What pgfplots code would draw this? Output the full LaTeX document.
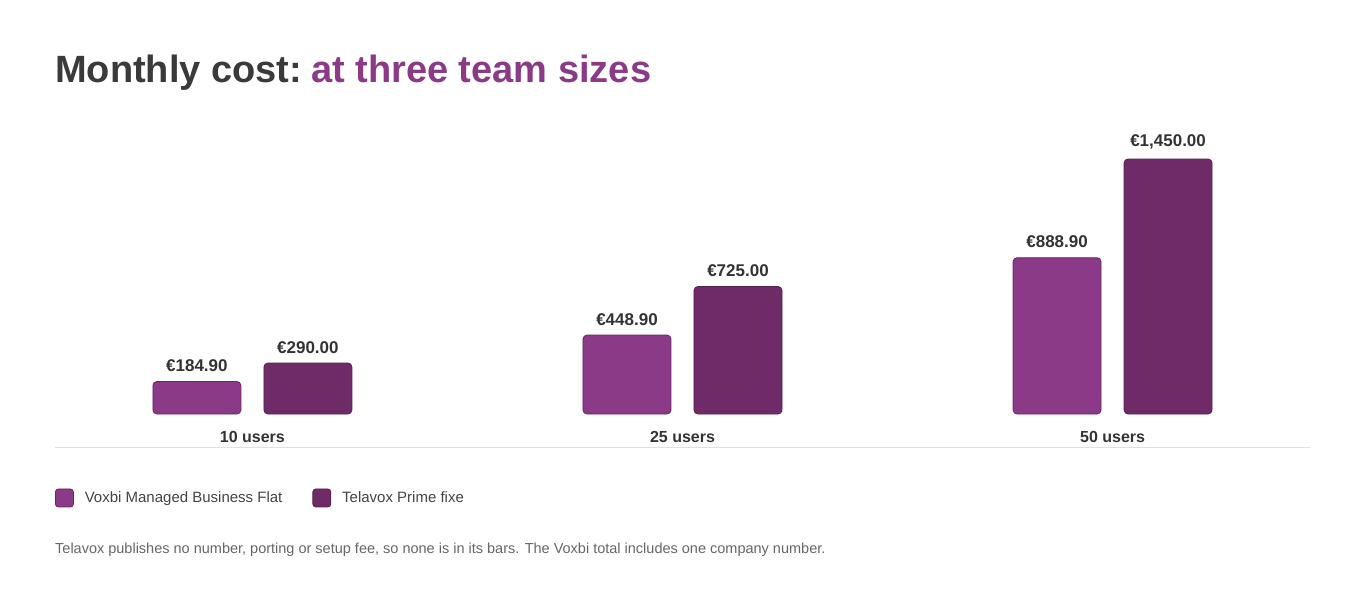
\documentclass[border=0pt]{standalone}
\usepackage{pgfplots}
\pgfplotsset{compat=1.18}
\usepackage{fontspec}
\setmainfont{Liberation Sans}
\definecolor{voxbi}{HTML}{8B3A88}
\definecolor{voxbiedge}{HTML}{6B2468}
\definecolor{telavox}{HTML}{6E2B68}
\definecolor{telavoxedge}{HTML}{55204F}
\definecolor{titlegray}{HTML}{3A3A3A}
\definecolor{labelgray}{HTML}{333333}
\definecolor{legendgray}{HTML}{444444}
\definecolor{notegray}{HTML}{666666}
\definecolor{axisgray}{HTML}{E0E0E0}
\begin{document}
\begin{tikzpicture}[x=1pt,y=1pt]
\path[use as bounding box] (0,0) rectangle (1366,608);
\node[anchor=base west, inner sep=0pt, font=\fontsize{38}{46}\selectfont\bfseries] at (55,525) {\textcolor{titlegray}{Monthly cost:}\hspace{9pt}\textcolor{voxbi}{at three team sizes}};
\begin{axis}[
  at={(55pt,160pt)}, anchor=south west, scale only axis,
  width=1255pt, height=315.37pt,
  xmin=-0.459, xmax=2.459, ymin=-193.33, ymax=1600,
  axis x line*=bottom, hide y axis,
  x axis line style={draw=axisgray, line width=1pt},
  xtick={0,1,2}, xticklabels={10 users,25 users,50 users},
  major tick length=0pt,
  xticklabel style={anchor=base, yshift=5pt, font=\fontsize{16}{19}\selectfont\bfseries, text=labelgray},
  ybar, bar width=88pt, clip=false,
  /pgf/number format/assume math mode=true,
  nodes near coords={€\pgfmathprintnumber[fixed, fixed zerofill, precision=2, 1000 sep={,}]{\pgfplotspointmeta}},
  nodes near coords style={font=\fontsize{17}{20}\selectfont\bfseries, text=labelgray, anchor=south, yshift=6pt},
  legend style={at={(axis description cs:0,-0.1585)}, anchor=west, draw=none, fill=none, inner sep=0pt, outer sep=0pt, font=\fontsize{15}{18}\selectfont, text=legendgray, /tikz/every even column/.append style={column sep=28pt}},
  legend columns=2, legend cell align=left,
  legend image code/.code={\draw[#1, rounded corners=3pt] (0pt,-9pt) rectangle (18pt,9pt);},
]
\addplot[bar shift=-55.5pt, fill=voxbi, draw=voxbiedge, line width=0.8pt, rounded corners=4pt] coordinates {(0,184.9) (1,448.9) (2,888.9)};
\addplot[bar shift=55.5pt, fill=telavox, draw=telavoxedge, line width=0.8pt, rounded corners=4pt] coordinates {(0,290) (1,725) (2,1450)};
\legend{\hspace{9pt}Voxbi Managed Business Flat, \hspace{9pt}Telavox Prime fixe}
\end{axis}
\node[anchor=west, inner sep=0pt, font=\fontsize{14.5}{17}\selectfont, text=notegray] at (55,58) {Telavox publishes no number, porting or setup fee, so none is in its bars. The Voxbi total includes one company number.};
\end{tikzpicture}
\end{document}
